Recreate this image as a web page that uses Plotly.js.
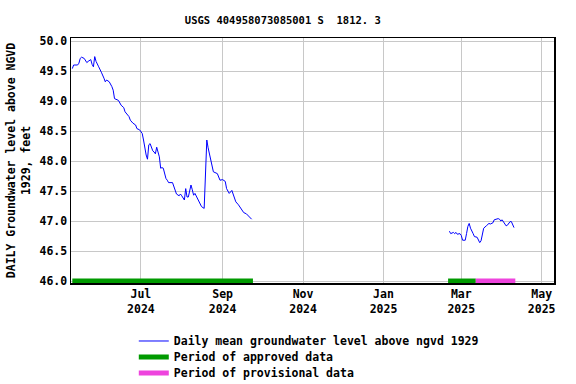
<!DOCTYPE html>
<html><head><meta charset="utf-8">
<script src="https://cdn.plot.ly/plotly-3.0.1.min.js"></script>
<style>html,body{margin:0;padding:0;background:#fff}#plot{width:576px;height:384px}</style>
</head><body><div id="plot"></div>
<script>
// Daily mean groundwater level (segment 1, gap, segment 2)
const dates = [
 '2024-05-10','2024-05-11','2024-05-14','2024-05-15','2024-05-16','2024-05-17','2024-05-19','2024-05-21','2024-05-22','2024-05-24',
 '2024-05-25','2024-05-26','2024-05-27','2024-05-28','2024-05-30','2024-05-31','2024-06-01','2024-06-03','2024-06-04','2024-06-05',
 '2024-06-07','2024-06-09','2024-06-10','2024-06-11','2024-06-14','2024-06-16','2024-06-18','2024-06-19','2024-06-22','2024-06-23',
 '2024-06-25','2024-06-27','2024-06-28','2024-06-30','2024-07-02','2024-07-03','2024-07-04','2024-07-05','2024-07-06','2024-07-07',
 '2024-07-08','2024-07-09','2024-07-10','2024-07-11','2024-07-12','2024-07-13','2024-07-15','2024-07-16','2024-07-17','2024-07-18',
 '2024-07-20','2024-07-21','2024-07-22','2024-07-25','2024-07-26','2024-07-27','2024-07-28','2024-07-30','2024-07-31','2024-08-01',
 '2024-08-03','2024-08-04','2024-08-05','2024-08-06','2024-08-08','2024-08-09','2024-08-10','2024-08-11','2024-08-13','2024-08-15',
 '2024-08-16','2024-08-18','2024-08-19','2024-08-20','2024-08-21','2024-08-22','2024-08-23','2024-08-24','2024-08-25','2024-08-28',
 '2024-08-30','2024-09-01','2024-09-03','2024-09-04','2024-09-06','2024-09-08','2024-09-09','2024-09-11','2024-09-13','2024-09-15',
 '2024-09-17','2024-09-19','2024-09-21','2024-09-23',
 '2024-12-01',
 '2025-02-20','2025-02-21','2025-02-23','2025-02-24','2025-02-25','2025-02-26','2025-02-28','2025-03-01','2025-03-02','2025-03-04',
 '2025-03-05','2025-03-06','2025-03-07','2025-03-08','2025-03-10','2025-03-11','2025-03-13','2025-03-14','2025-03-15','2025-03-16',
 '2025-03-17','2025-03-18','2025-03-20','2025-03-21','2025-03-22','2025-03-23','2025-03-25','2025-03-26','2025-03-27','2025-03-29',
 '2025-03-30','2025-03-31','2025-04-01','2025-04-02','2025-04-03','2025-04-04','2025-04-05','2025-04-07','2025-04-08','2025-04-09',
 '2025-04-10'
];
const levels = [
 49.54,49.60,49.60,49.63,49.71,49.73,49.71,49.64,49.66,49.69,
 49.61,49.57,49.74,49.66,49.57,49.51,49.48,49.38,49.32,49.35,
 49.32,49.24,49.18,49.04,49.01,48.93,48.89,48.82,48.74,48.68,
 48.63,48.60,48.54,48.52,48.46,48.35,48.21,48.10,48.03,48.27,
 48.29,48.23,48.17,48.15,48.12,48.23,48.07,47.88,47.89,47.88,
 47.71,47.68,47.64,47.64,47.57,47.53,47.45,47.42,47.45,47.42,
 47.35,47.54,47.40,47.40,47.60,47.52,47.43,47.46,47.38,47.29,
 47.24,47.21,47.78,48.35,48.22,48.13,48.04,47.92,47.82,47.79,
 47.68,47.69,47.66,47.54,47.46,47.51,47.45,47.32,47.27,47.21,
 47.14,47.12,47.07,47.03,
 null,
 46.83,46.79,46.81,46.79,46.81,46.78,46.79,46.76,46.68,46.68,
 46.79,46.91,46.96,46.88,46.79,46.74,46.73,46.69,46.64,46.67,
 46.79,46.88,46.92,46.94,46.96,46.95,46.97,47.02,47.03,47.04,
 47.03,47.00,47.02,46.99,46.95,46.92,46.93,46.99,46.99,46.93,
 46.89
];
const approvedStart1 = '2024-05-10', approvedEnd1 = '2024-09-24';
const approvedStart2 = '2025-02-19', approvedEnd2 = '2025-03-12';
const provisionalStart = '2025-03-12', provisionalEnd = '2025-04-11';
const barLevel = 46.0;
const tickDates = ['2024-07-01','2024-09-01','2024-11-01','2025-01-01','2025-03-01','2025-05-01'];
const tickLabels = ['Jul<br>2024','Sep<br>2024','Nov<br>2024','Jan<br>2025','Mar<br>2025','May<br>2025'];
const yTicks = [46.0,46.5,47.0,47.5,48.0,48.5,49.0,49.5,50.0];

const F = 'DejaVu Sans Mono, monospace';
const traces = [
 {x: dates, y: levels, mode:'lines', line:{color:'#0000ff', width:1}, name:'Daily mean groundwater level above ngvd 1929', connectgaps:false, legend:'legend'},
 {x: [approvedStart1, approvedEnd1, null, approvedStart2, approvedEnd2], y:[barLevel,barLevel,null,barLevel,barLevel], mode:'lines', line:{color:'#009a00', width:5}, name:'Period of approved data', legend:'legend2'},
 {x: [provisionalStart, provisionalEnd], y:[barLevel,barLevel], mode:'lines', line:{color:'#ee44dd', width:5}, name:'Period of provisional data', legend:'legend3'}
];
const legBase = {orientation:'v', x:0.13, xanchor:'left', yanchor:'middle', font:{family:F, size:11.5, weight:'bold', color:'#000'}, tracegroupgap:0, itemwidth:30, bgcolor:'rgba(0,0,0,0)'};
const layout = {
 width:576, height:384,
 margin:{l:71, r:22, t:38, b:101, autoexpand:false},
 paper_bgcolor:'#fff', plot_bgcolor:'#fff',
 font:{family:F, size:11.5, color:'#000', weight:'bold'},
 title:{text:'USGS 404958073085001 S  1812. 3', x:0.491, xref:'container', y:0.948, yref:'container', yanchor:'middle', font:{family:F, size:10.5, weight:'bold', color:'#000'}},
 xaxis:{type:'date', range:['2024-05-09','2025-05-10 08:00'], tickvals:tickDates, ticktext:tickLabels,
   showgrid:true, gridcolor:'#c8c8c8', gridwidth:1, showline:true, linecolor:'#000', linewidth:1.5, mirror:true,
   ticks:'', zeroline:false, tickfont:{family:F, size:11.5, weight:'bold'}},
 yaxis:{range:[45.967,50.05], tickvals:yTicks, ticktext:yTicks.map(v=>v.toFixed(1)),
   showgrid:true, gridcolor:'#c8c8c8', gridwidth:1, showline:true, linecolor:'#000', linewidth:1.5, mirror:true,
   ticks:'', zeroline:false, tickfont:{family:F, size:11.5, weight:'bold'},
   title:{text:'DAILY Groundwater level above NGVD<br>1929, feet', standoff:6, font:{family:F, size:11.5, weight:'bold'}}},
 showlegend:true,
 legend:Object.assign({}, legBase, {y:-0.2367}),
 legend2:Object.assign({}, legBase, {y:-0.302}),
 legend3:Object.assign({}, legBase, {y:-0.367})
};
Plotly.newPlot('plot', traces, layout, {staticPlot:true, displayModeBar:false});
</script></body></html>
